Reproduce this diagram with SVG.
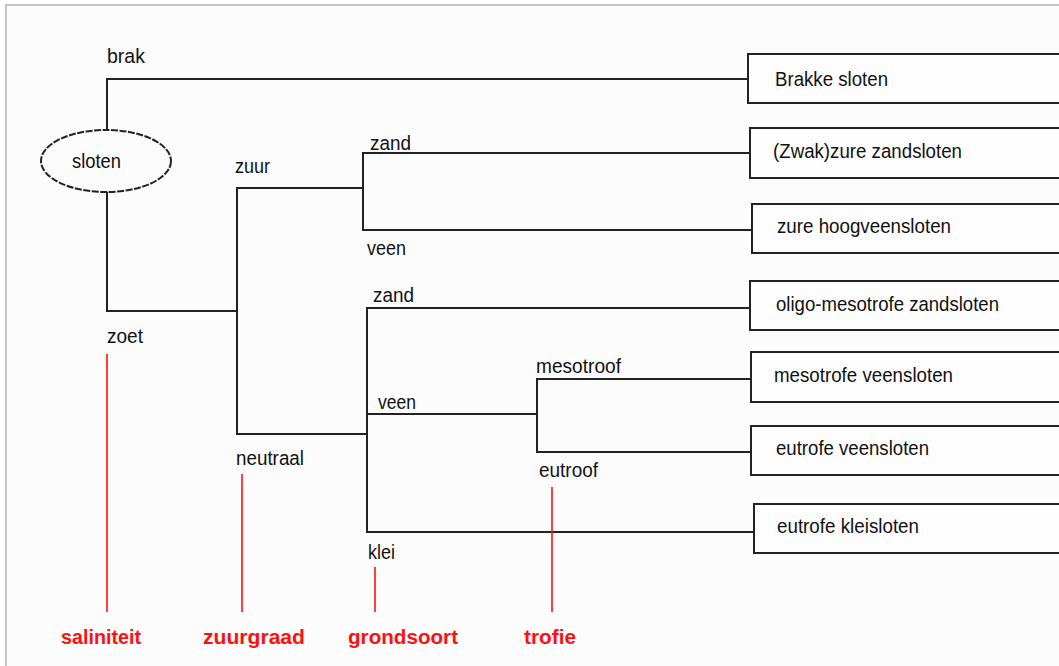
<svg xmlns="http://www.w3.org/2000/svg" width="1059" height="666" viewBox="0 0 1059 666">
  <style>
    .frame { fill: #fcfcfc; stroke: #c4c4c4; stroke-width: 2; }
    .line { fill: none; stroke: #222; stroke-width: 2; }
    .box { fill: #fdfdfd; stroke: #222; stroke-width: 2; }
    .axis { fill: none; stroke: #ff1010; stroke-width: 1.6; }
    .lbl { font-family: "Liberation Sans", Arial, sans-serif; font-size: 20.5px; fill: #111; }
    .cat { font-family: "Liberation Sans", Arial, sans-serif; font-size: 20px; font-weight: bold; fill: #ff1010; }
  </style>

  <rect x="0" y="0" width="1059" height="666" fill="#ffffff"/>
  <rect class="frame" x="6" y="5" width="1070" height="680"/>

  <!-- connectors of the key -->
  <g id="connectors">
    <polyline class="line" points="107,130 107,79 748,79"/>
    <polyline class="line" points="107,192 107,311 237,311"/>
    <polyline class="line" points="363,188 237,188 237,434 367,434"/>
    <polyline class="line" points="750,153 363,153 363,230 752,230"/>
    <polyline class="line" points="750,308 367,308 367,532 754,532"/>
    <line class="line" x1="367" y1="414" x2="537" y2="414"/>
    <polyline class="line" points="751,379 537,379 537,452 751,452"/>
  </g>

  <!-- branch labels -->
  <g id="branch-labels">
    <text class="lbl" x="107" y="63" textLength="38" lengthAdjust="spacingAndGlyphs">brak</text>
    <text class="lbl" x="107" y="343" textLength="36" lengthAdjust="spacingAndGlyphs">zoet</text>
    <text class="lbl" x="235" y="173" textLength="35" lengthAdjust="spacingAndGlyphs">zuur</text>
    <text class="lbl" x="236" y="465" textLength="68" lengthAdjust="spacingAndGlyphs">neutraal</text>
    <text class="lbl" x="370" y="150" textLength="41" lengthAdjust="spacingAndGlyphs">zand</text>
    <text class="lbl" x="367" y="255" textLength="39" lengthAdjust="spacingAndGlyphs">veen</text>
    <text class="lbl" x="373" y="302" textLength="41" lengthAdjust="spacingAndGlyphs">zand</text>
    <text class="lbl" x="378" y="409" textLength="38" lengthAdjust="spacingAndGlyphs">veen</text>
    <text class="lbl" x="368" y="559" textLength="27" lengthAdjust="spacingAndGlyphs">klei</text>
    <text class="lbl" x="536" y="373" textLength="85" lengthAdjust="spacingAndGlyphs">mesotroof</text>
    <text class="lbl" x="539" y="477" textLength="59" lengthAdjust="spacingAndGlyphs">eutroof</text>
  </g>

  <!-- start node -->
  <g id="node-sloten">
    <ellipse class="line" cx="106" cy="161" rx="65" ry="31" stroke-width="1.3" stroke-dasharray="7 1.5"/>
    <text class="lbl" x="72" y="168" textLength="49" lengthAdjust="spacingAndGlyphs">sloten</text>
  </g>

  <!-- ditch types -->
  <g id="node-brakke">
    <rect class="box" x="748" y="54" width="330" height="49"/>
    <text class="lbl" x="775" y="86" textLength="113" lengthAdjust="spacingAndGlyphs">Brakke sloten</text>
  </g>
  <g id="node-zwakzure">
    <rect class="box" x="750" y="128" width="330" height="50"/>
    <text class="lbl" x="773" y="158" textLength="189" lengthAdjust="spacingAndGlyphs">(Zwak)zure zandsloten</text>
  </g>
  <g id="node-hoogveen">
    <rect class="box" x="752" y="204" width="330" height="49"/>
    <text class="lbl" x="777" y="233" textLength="174" lengthAdjust="spacingAndGlyphs">zure hoogveensloten</text>
  </g>
  <g id="node-oligo">
    <rect class="box" x="750" y="281" width="330" height="49"/>
    <text class="lbl" x="776" y="311" textLength="223" lengthAdjust="spacingAndGlyphs">oligo-mesotrofe zandsloten</text>
  </g>
  <g id="node-mesotroof">
    <rect class="box" x="751" y="352" width="330" height="50"/>
    <text class="lbl" x="774" y="382" textLength="179" lengthAdjust="spacingAndGlyphs">mesotrofe veensloten</text>
  </g>
  <g id="node-eutroof">
    <rect class="box" x="751" y="426" width="330" height="49"/>
    <text class="lbl" x="776" y="455" textLength="153" lengthAdjust="spacingAndGlyphs">eutrofe veensloten</text>
  </g>
  <g id="node-klei">
    <rect class="box" x="754" y="504" width="330" height="49"/>
    <text class="lbl" x="777" y="533" textLength="142" lengthAdjust="spacingAndGlyphs">eutrofe kleisloten</text>
  </g>

  <!-- criteria axes -->
  <g id="criteria">
    <line class="axis" x1="107" y1="354" x2="107" y2="612"/>
    <line class="axis" x1="242" y1="474" x2="242" y2="612"/>
    <line class="axis" x1="375" y1="567" x2="375" y2="612"/>
    <line class="axis" x1="552" y1="487" x2="552" y2="612"/>
    <text class="cat" x="61" y="644" textLength="80" lengthAdjust="spacingAndGlyphs">saliniteit</text>
    <text class="cat" x="203" y="644" textLength="102" lengthAdjust="spacingAndGlyphs">zuurgraad</text>
    <text class="cat" x="348" y="644" textLength="110" lengthAdjust="spacingAndGlyphs">grondsoort</text>
    <text class="cat" x="524" y="644" textLength="52" lengthAdjust="spacingAndGlyphs">trofie</text>
  </g>
</svg>
